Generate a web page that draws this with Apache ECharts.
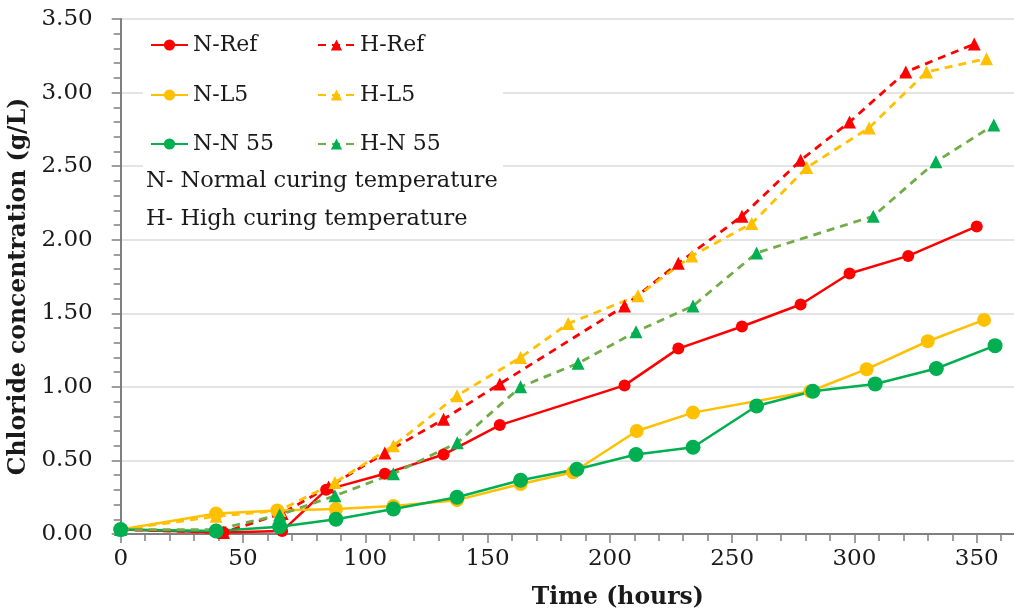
<!DOCTYPE html>
<html>
<head>
<meta charset="utf-8">
<script src="https://cdn.jsdelivr.net/npm/echarts@6/dist/echarts.min.js"></script>
<style>
  html, body { margin: 0; padding: 0; background: #fff; }
  #chart { width: 1014px; height: 615px; }
</style>
</head>
<body>
<div id="chart"></div>
<script>
// Chloride concentration (g/L) against exposure time (hours)
const seriesNames = ['N-Ref', 'H-Ref', 'N-L5', 'H-L5', 'N-N 55', 'H-N 55'];

const nRef = [[0,0.03],[42,0.01],[66,0.02],[84,0.30],[108,0.41],[132,0.54],[155,0.74],[206,1.01],[228,1.26],[254,1.41],[278,1.56],[298,1.77],[322,1.89],[350,2.09]];
const hRef = [[0,0.03],[42,0.01],[66,0.14],[85,0.32],[108,0.55],[132,0.78],[155,1.02],[206,1.55],[228,1.84],[254,2.16],[278,2.54],[298,2.80],[321,3.14],[349,3.33]];
const nL5 = [[0,0.03],[39,0.14],[64,0.16],[88,0.17],[111.5,0.19],[137.5,0.23],[163.5,0.34],[185,0.42],[211,0.70],[234,0.825],[282,0.97],[305,1.12],[330,1.31],[353,1.455]];
const hL5 = [[0,0.03],[39,0.12],[65,0.16],[87.6,0.35],[111.5,0.60],[137.5,0.94],[163.5,1.20],[183,1.43],[211.5,1.62],[233.5,1.89],[258,2.11],[280.5,2.49],[306,2.76],[329.5,3.14],[354,3.23]];
const nN55 = [[0,0.03],[39,0.02],[65,0.05],[88,0.10],[111.5,0.17],[137.5,0.25],[163.5,0.365],[186.5,0.44],[210.7,0.54],[234,0.59],[260,0.87],[283,0.97],[308.5,1.02],[333.5,1.125],[357.5,1.28]];
const hN55 = [[0,0.03],[39,0.03],[65,0.13],[87.6,0.26],[111.5,0.41],[137.6,0.62],[163.5,1.00],[187,1.16],[210.7,1.375],[234,1.55],[260,1.91],[307.7,2.16],[333.3,2.53],[357,2.78]];

const noteLines = ['N- Normal curing temperature', 'H- High curing temperature'];
const xTitle = 'Time (hours)';
const yTitle = 'Chloride concentration (g/L)';

const RED = '#FF0000', YELLOW = '#FFC000', GREEN = '#00B050', LIGHTGREEN = '#70AD47';
const FONT = 'DejaVu Serif';
const INK = '#1a1a1a';

function solid(name, data, color, size) {
  return {
    name, type: 'line', data, symbol: 'circle', symbolSize: size,
    itemStyle: { color },
    lineStyle: { color, width: 2.5, type: 'solid' },
    emphasis: { disabled: true }
  };
}
function dashed(name, data, color, lineColor) {
  return {
    name, type: 'line', data, symbol: 'triangle', symbolSize: 13,
    itemStyle: { color },
    lineStyle: { color: lineColor, width: 2.8, type: [8, 6] },
    emphasis: { disabled: true }
  };
}

// one legend per entry so the two columns line up
const legendSlots = [
  [150, 45], [317, 45],
  [150, 95], [317, 95],
  [150, 144], [317, 144]
];
const legends = seriesNames.map((n, i) => ({
  data: [n],
  left: legendSlots[i][0],
  top: legendSlots[i][1] - 11,
  padding: 0,
  itemWidth: 37,
  itemHeight: 14,
  selectedMode: false,
  textStyle: { fontFamily: FONT, fontSize: 22, color: INK, lineHeight: 22 }
}));

const chart = echarts.init(document.getElementById('chart'), null, { renderer: 'canvas' });
chart.setOption({
  animation: false,
  backgroundColor: '#fff',
  grid: { left: 120.7, top: 19, bottom: 81, right: -85, containLabel: false, outerBoundsMode: 'none' },
  legend: legends,
  graphic: [
    { type: 'rect', z: 1, shape: { x: 143, y: 26, width: 360, height: 206 }, style: { fill: '#fff' } },
    { type: 'text', z: 5, left: 146, top: 170, style: { text: noteLines[0], font: '22.5px "DejaVu Serif"', fill: INK } },
    { type: 'text', z: 5, left: 146, top: 208, style: { text: noteLines[1], font: '22.5px "DejaVu Serif"', fill: INK } }
  ],
  xAxis: {
    type: 'value', min: 0, max: 400, interval: 50,
    name: xTitle, nameLocation: 'middle', nameGap: 52,
    nameTextStyle: { fontFamily: FONT, fontSize: 23.5, color: INK, fontWeight: 'bold', padding: [0, 0, 0, 16] },
    axisLine: { show: true, lineStyle: { color: '#7f7f7f', width: 2 } },
    axisTick: { show: true, length: 9, lineStyle: { color: '#7f7f7f', width: 1.5 } },
    minorTick: { show: true, splitNumber: 5, length: 7, lineStyle: { color: '#7f7f7f', width: 1.5 } },
    splitLine: { show: false },
    axisLabel: { fontFamily: FONT, fontSize: 23, color: INK, margin: 14 }
  },
  yAxis: {
    type: 'value', min: 0, max: 3.5, interval: 0.5,
    name: yTitle, nameLocation: 'middle', nameGap: 66, nameRotate: 90,
    nameTextStyle: { fontFamily: FONT, fontSize: 23.5, color: INK, fontWeight: 'bold', padding: [0, 20, 0, 0] },
    axisLine: { show: true, lineStyle: { color: '#7f7f7f', width: 2 } },
    axisTick: { show: true, length: 9, lineStyle: { color: '#7f7f7f', width: 1.5 } },
    minorTick: { show: true, splitNumber: 5, length: 7, lineStyle: { color: '#7f7f7f', width: 1.5 } },
    splitLine: { show: true, lineStyle: { color: '#e4e4e4', width: 2 } },
    axisLabel: { fontFamily: FONT, fontSize: 23, color: INK, margin: 28, formatter: v => v.toFixed(2) }
  },
  series: [
    solid(seriesNames[0], nRef, RED, 12),
    dashed(seriesNames[1], hRef, RED, RED),
    solid(seriesNames[2], nL5, YELLOW, 14),
    dashed(seriesNames[3], hL5, YELLOW, YELLOW),
    solid(seriesNames[4], nN55, GREEN, 15),
    dashed(seriesNames[5], hN55, GREEN, LIGHTGREEN)
  ]
});
</script>
</body>
</html>
